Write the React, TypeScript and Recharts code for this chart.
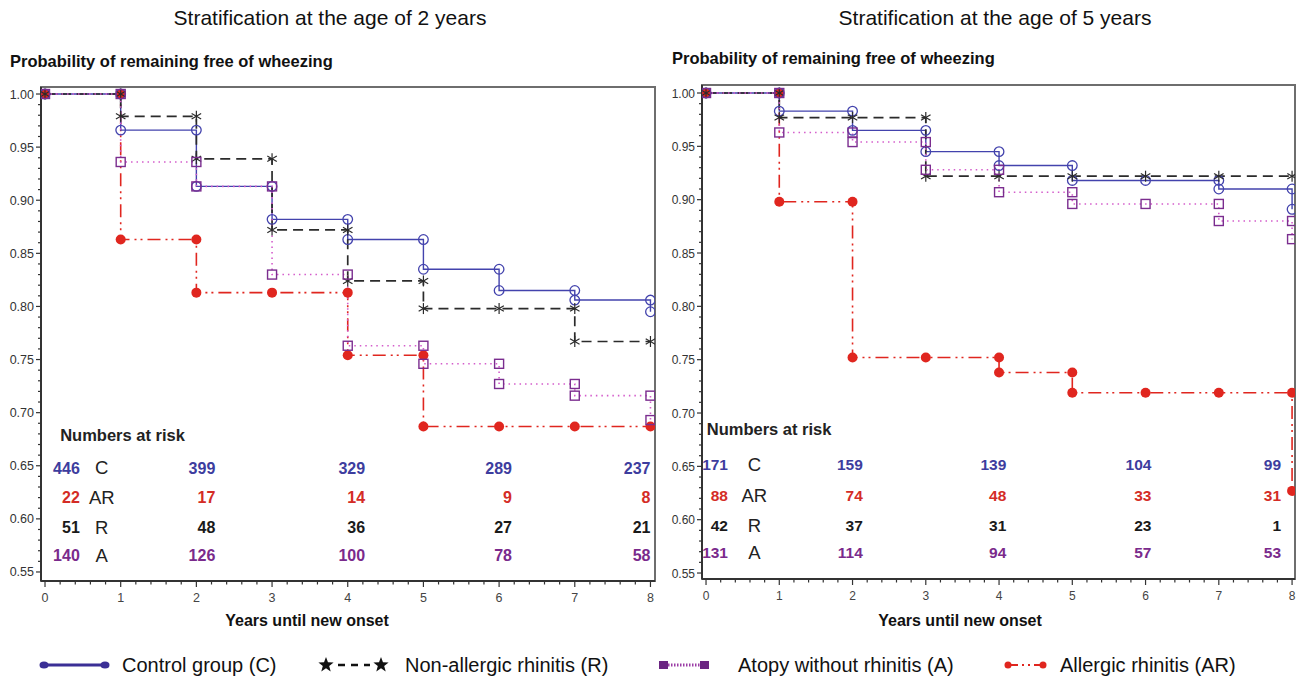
import React from 'react';
import { LineChart, Line, XAxis, YAxis, ReferenceArea, ReferenceDot } from 'recharts';

// Kaplan-Meier estimates after the step at each year (0..8)
const years = [0, 1, 2, 3, 4, 5, 6, 7, 8];

// stratification at the age of 2 years
const control2 = [1, 0.966, 0.913, 0.882, 0.863, 0.835, 0.815, 0.806, 0.795];
const nonAllergic2 = [1, 0.979, 0.939, 0.872, 0.824, 0.798, 0.798, 0.767, 0.767];
const atopy2 = [1, 0.936, 0.913, 0.83, 0.763, 0.746, 0.727, 0.716, 0.693];
const allergic2 = [1, 0.863, 0.813, 0.813, 0.754, 0.687, 0.687, 0.687, 0.687];

// stratification at the age of 5 years
const control5 = [1, 0.983, 0.965, 0.945, 0.932, 0.918, 0.918, 0.91, 0.891];
const nonAllergic5 = [1, 0.977, 0.977, 0.922, 0.922, 0.922, 0.922, 0.922, 0.922];
const atopy5 = [1, 0.963, 0.954, 0.928, 0.907, 0.896, 0.896, 0.88, 0.863];
const allergic5 = [1, 0.898, 0.752, 0.752, 0.738, 0.719, 0.719, 0.719, 0.627];

// numbers at risk at years 0, 2, 4, 6, 8
const riskYears = [0, 2, 4, 6, 8];
const riskC2 = [446, 399, 329, 289, 237];
const riskAR2 = [22, 17, 14, 9, 8];
const riskR2 = [51, 48, 36, 27, 21];
const riskA2 = [140, 126, 100, 78, 58];
const riskC5 = [171, 159, 139, 104, 99];
const riskAR5 = [88, 74, 48, 33, 31];
const riskR5 = [42, 37, 31, 23, 1];
const riskA5 = [131, 114, 94, 57, 53];

const BLUE = '#4343ad';
const RED = '#e0261f';
const BLACK = '#2b2b2b';
const PURPLE = '#7b2d8f';
const PINK = '#d45ccb';
const FONT = '"Liberation Sans", Arial, sans-serif';

// turn yearly estimates into step points (both ends of every drop)
function toSteps(values: number[]) {
  const pts = [{ t: years[0], s: values[0] }];
  for (let i = 1; i < values.length; i++) {
    pts.push({ t: years[i], s: values[i - 1] });
    if (values[i] !== values[i - 1]) pts.push({ t: years[i], s: values[i] });
  }
  return pts;
}

const xTicks: number[] = [];
for (let i = 0; i <= 40; i++) xTicks.push(Math.round(i * 20) / 100);
const yTicks: number[] = [];
for (let i = 55; i <= 100; i++) yTicks.push(i / 100);

const openCircle = (p: any) => (
  <circle key={`oc-${p.index}`} cx={p.cx} cy={p.cy} r={4.8} fill="none" stroke={BLUE} strokeWidth={1.3} />
);
const openSquare = (p: any) => (
  <rect key={`sq-${p.index}`} x={p.cx - 4.5} y={p.cy - 4.5} width={9} height={9} fill="none" stroke={PURPLE} strokeWidth={1.4} />
);
const filledCircle = (p: any) => <circle key={`fc-${p.index}`} cx={p.cx} cy={p.cy} r={5} fill={RED} />;
const asterisk = (p: any) => {
  const r = 5.5;
  const a = r * Math.cos(Math.PI / 6);
  const b = r * 0.5;
  return (
    <g key={`st-${p.index}`} stroke={BLACK} strokeWidth={1.2}>
      <line x1={p.cx} y1={p.cy - r} x2={p.cx} y2={p.cy + r} />
      <line x1={p.cx - a} y1={p.cy - b} x2={p.cx + a} y2={p.cy + b} />
      <line x1={p.cx - a} y1={p.cy + b} x2={p.cx + a} y2={p.cy - b} />
    </g>
  );
};

const makeXTick = (fontSize: number) => (p: any) => {
  const v = p.payload.value;
  const major = Math.abs(v - Math.round(v)) < 1e-6;
  return (
    <g>
      <line x1={p.x} y1={p.y} x2={p.x} y2={p.y + (major ? 6 : 3.5)} stroke="#333" strokeWidth={1.2} />
      {major && (
        <text x={p.x} y={p.y + 21} textAnchor="middle" fontSize={fontSize} fill="#444" fontFamily={FONT}>
          {Math.round(v)}
        </text>
      )}
    </g>
  );
};

const makeYTick = (fontSize: number) => (p: any) => {
  const v = p.payload.value;
  const major = Math.round(v * 100) % 5 === 0;
  return (
    <g>
      <line x1={p.x} y1={p.y} x2={p.x - (major ? 5 : 3)} y2={p.y} stroke="#333" strokeWidth={1.2} />
      {major && (
        <text x={p.x - 7} y={p.y + 4.5} textAnchor="end" fontSize={fontSize} fill="#333" fontFamily={FONT}>
          {v.toFixed(2)}
        </text>
      )}
    </g>
  );
};

type RiskRow = { label: string; counts: number[]; color: string; y: number };

type PanelProps = {
  left: number;
  width: number;
  marginTop: number;
  marginRight: number;
  marginBottom: number;
  yAxisWidth: number;
  xDomain: [number, number];
  yDomain: [number, number];
  tickFont: number;
  series: { control: number[]; nonAllergic: number[]; atopy: number[]; allergic: number[] };
  rows: RiskRow[];
  riskX: number[];
  headerAt: [number, number];
  letterX: number;
  numFont: number;
};

function Panel(props: PanelProps) {
  const { series, rows } = props;
  return (
    <div style={{ position: 'absolute', left: props.left, top: 0 }}>
      <LineChart
        width={props.width}
        height={640}
        margin={{ top: props.marginTop, right: props.marginRight, bottom: props.marginBottom, left: 0 }}
      >
        <XAxis
          dataKey="t"
          type="number"
          domain={props.xDomain}
          allowDataOverflow
          ticks={xTicks}
          interval={0}
          tickSize={0}
          tickMargin={0}
          tickLine={false}
          tick={makeXTick(props.tickFont)}
          axisLine={{ stroke: '#333', strokeWidth: 2 }}
          height={30}
        />
        <YAxis
          type="number"
          domain={props.yDomain}
          allowDataOverflow
          ticks={yTicks}
          interval={0}
          tickSize={0}
          tickMargin={0}
          tickLine={false}
          tick={makeYTick(props.tickFont)}
          axisLine={{ stroke: '#333', strokeWidth: 2 }}
          width={props.yAxisWidth}
        />
        <ReferenceArea
          x1={props.xDomain[0]}
          x2={props.xDomain[1]}
          y1={props.yDomain[0]}
          y2={props.yDomain[1]}
          fill="none"
          stroke="#6e6e6e"
          strokeWidth={2}
          ifOverflow="visible"
        />
        <Line data={toSteps(series.allergic)} dataKey="s" type="linear" stroke={RED} strokeWidth={1.6}
          strokeDasharray="13 5 2 4 2 5" dot={filledCircle} activeDot={false} isAnimationActive={false} />
        <Line data={toSteps(series.control)} dataKey="s" type="linear" stroke={BLUE} strokeWidth={1.4}
          dot={openCircle} activeDot={false} isAnimationActive={false} />
        <Line data={toSteps(series.nonAllergic)} dataKey="s" type="linear" stroke={BLACK} strokeWidth={1.7}
          strokeDasharray="10 6" dot={asterisk} activeDot={false} isAnimationActive={false} />
        <Line data={toSteps(series.atopy)} dataKey="s" type="linear" stroke={PINK} strokeWidth={1.6}
          strokeDasharray="1.5 4" dot={openSquare} activeDot={false} isAnimationActive={false} />

        <ReferenceDot x={props.headerAt[0]} y={props.headerAt[1]} r={0} fill="none" stroke="none" ifOverflow="visible"
          label={{ value: 'Numbers at risk', position: 'right', offset: 0, fill: '#222', fontWeight: 700, fontSize: 16.5, fontFamily: FONT }} />
        {rows.map((row) => (
          <ReferenceDot key={`lab-${row.label}`} x={props.letterX} y={row.y} r={0} fill="none" stroke="none" ifOverflow="visible"
            label={{ value: row.label, position: 'center', fill: '#222', fontSize: 18.5, fontFamily: FONT }} />
        ))}
        {rows.map((row) =>
          row.counts.map((n, i) => (
            <ReferenceDot key={`${row.label}-${riskYears[i]}`} x={props.riskX[i]} y={row.y} r={0} fill="none" stroke="none"
              ifOverflow="visible"
              label={{ value: String(n), position: 'left', offset: 0, fill: row.color, fontWeight: 700, fontSize: props.numFont, fontFamily: FONT }} />
          ))
        )}
      </LineChart>
    </div>
  );
}

function Legend() {
  const star = (cx: number, cy: number, r: number) => {
    const pts: string[] = [];
    for (let i = 0; i < 10; i++) {
      const rad = i % 2 === 0 ? r : r * 0.42;
      const ang = -Math.PI / 2 + (i * Math.PI) / 5;
      pts.push(`${cx + rad * Math.cos(ang)},${cy + rad * Math.sin(ang)}`);
    }
    return <polygon points={pts.join(' ')} fill="#111" />;
  };
  const textStyle = { fontSize: 20, fontFamily: FONT, fill: '#111' };
  return (
    <svg width={1302} height={34} style={{ position: 'absolute', left: 0, top: 645 }}>
      <line x1={44} x2={105} y1={20} y2={20} stroke="#3b2f96" strokeWidth={3} />
      <ellipse cx={44} cy={20} rx={4.5} ry={3.5} fill="#3b2f96" />
      <ellipse cx={105} cy={20} rx={4.5} ry={3.5} fill="#3b2f96" />
      <text x={122} y={27} {...textStyle}>Control group (C)</text>

      {star(326, 20, 8)}
      <line x1={338} x2={370} y1={20} y2={20} stroke="#111" strokeWidth={2.5} strokeDasharray="7 6" />
      {star(381, 20, 8)}
      <text x={405} y={27} {...textStyle}>Non-allergic rhinitis (R)</text>

      <rect x={659} y={16} width={9} height={8} fill="#6b2582" />
      <rect x={700} y={16} width={9} height={8} fill="#6b2582" />
      <line x1={668} x2={700} y1={20} y2={20} stroke="#9b3da6" strokeWidth={3} strokeDasharray="1.5 1.5" />
      <text x={738} y={27} {...textStyle}>Atopy without rhinitis (A)</text>

      <circle cx={1008} cy={20} r={3.5} fill={RED} />
      <circle cx={1043} cy={20} r={3.5} fill={RED} />
      <line x1={1008} x2={1043} y1={20} y2={20} stroke={RED} strokeWidth={2} strokeDasharray="10 4 2 4 2 4" />
      <text x={1060} y={27} {...textStyle}>Allergic rhinitis (AR)</text>
    </svg>
  );
}

const titleStyle: React.CSSProperties = {
  position: 'absolute',
  fontFamily: FONT,
  fontSize: 21,
  color: '#111',
  whiteSpace: 'nowrap',
  transform: 'translateX(-50%)',
};
const yTitleStyle: React.CSSProperties = {
  position: 'absolute',
  fontFamily: FONT,
  fontSize: 16.5,
  fontWeight: 700,
  color: '#111',
  whiteSpace: 'nowrap',
};
const xTitleStyle: React.CSSProperties = {
  position: 'absolute',
  fontFamily: FONT,
  fontSize: 16,
  fontWeight: 700,
  color: '#111',
  whiteSpace: 'nowrap',
  transform: 'translateX(-50%)',
};

export default function App() {
  return (
    <div style={{ position: 'relative', width: 1302, height: 679, background: '#fff', overflow: 'hidden' }}>
      <style>{`body{margin:0}`}</style>
      <div style={{ ...titleStyle, left: 330, top: 6 }}>Stratification at the age of 2 years</div>
      <div style={{ ...titleStyle, left: 995, top: 6 }}>Stratification at the age of 5 years</div>
      <div style={{ ...yTitleStyle, left: 10, top: 52 }}>Probability of remaining free of wheezing</div>
      <div style={{ ...yTitleStyle, left: 672, top: 49 }}>Probability of remaining free of wheezing</div>

      <Panel
        left={0}
        width={670}
        marginTop={87}
        marginRight={15}
        marginBottom={29}
        yAxisWidth={41}
        xDomain={[-0.053, 8.06]}
        yDomain={[0.5415, 1.0066]}
        tickFont={12.5}
        series={{ control: control2, nonAllergic: nonAllergic2, atopy: atopy2, allergic: allergic2 }}
        rows={[
          { label: 'C', counts: riskC2, color: '#3d3d9e', y: 0.648 },
          { label: 'AR', counts: riskAR2, color: '#d42c26', y: 0.6205 },
          { label: 'R', counts: riskR2, color: '#1a1a1a', y: 0.592 },
          { label: 'A', counts: riskA2, color: '#7a2a8c', y: 0.566 },
        ]}
        riskX={[0.46, 2.25, 4.23, 6.17, 8.0]}
        headerAt={[0.2, 0.679]}
        letterX={0.75}
        numFont={16}
      />
      <Panel
        left={660}
        width={642}
        marginTop={85}
        marginRight={7}
        marginBottom={31}
        yAxisWidth={42}
        xDomain={[-0.055, 8.04]}
        yDomain={[0.5444, 1.0075]}
        tickFont={12}
        series={{ control: control5, nonAllergic: nonAllergic5, atopy: atopy5, allergic: allergic5 }}
        rows={[
          { label: 'C', counts: riskC5, color: '#3d3d9e', y: 0.6514 },
          { label: 'AR', counts: riskAR5, color: '#d42c26', y: 0.623 },
          { label: 'R', counts: riskR5, color: '#1a1a1a', y: 0.595 },
          { label: 'A', counts: riskA5, color: '#7a2a8c', y: 0.569 },
        ]}
        riskX={[0.3, 2.14, 4.1, 6.08, 7.85]}
        headerAt={[0.01, 0.685]}
        letterX={0.66}
        numFont={15.5}
      />

      <div style={{ ...xTitleStyle, left: 307, top: 612 }}>Years until new onset</div>
      <div style={{ ...xTitleStyle, left: 960, top: 612 }}>Years until new onset</div>
      <Legend />
    </div>
  );
}
